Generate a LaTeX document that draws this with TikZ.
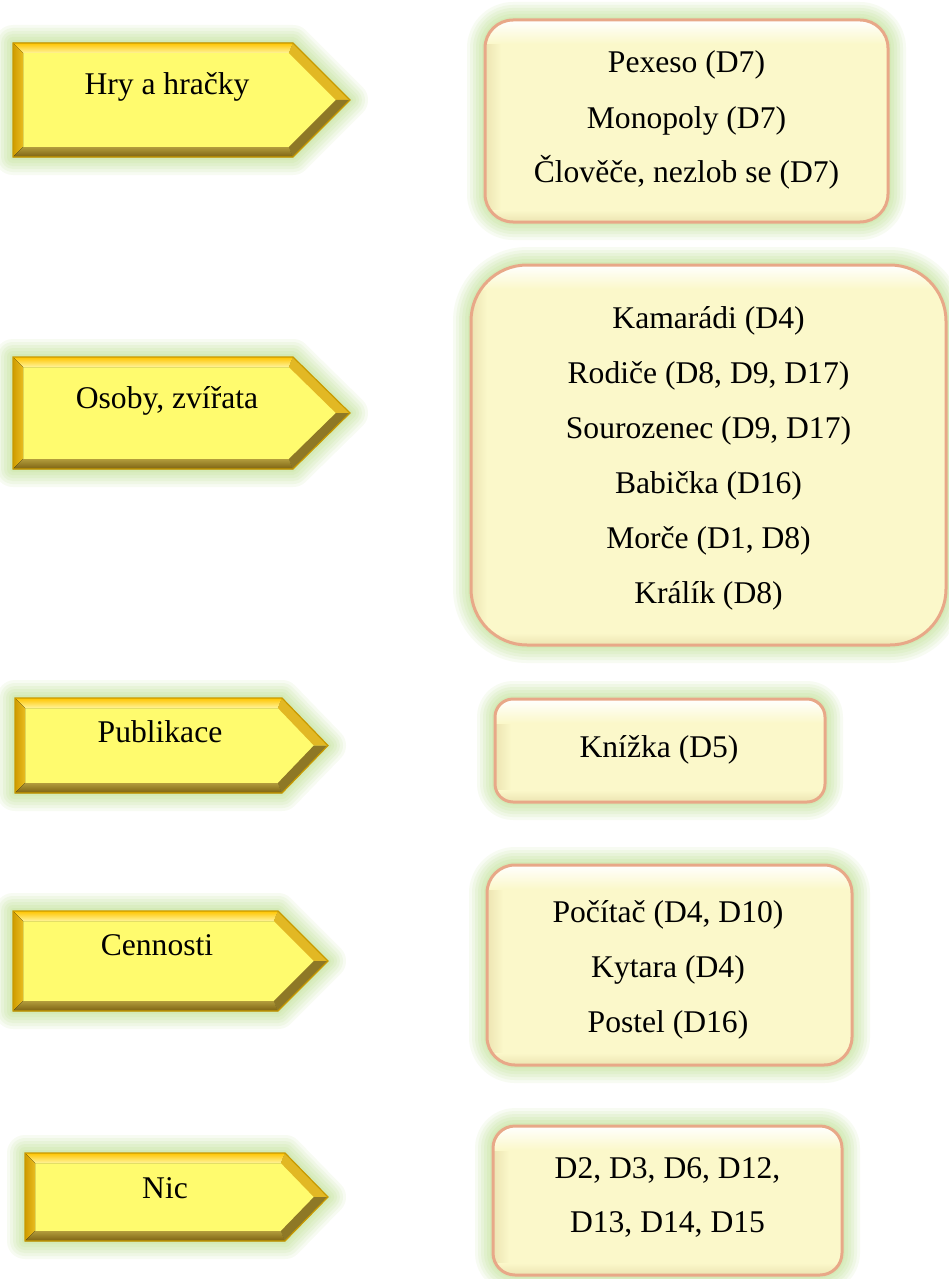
\documentclass[tikz,border=0pt]{standalone}
\usepackage{fontspec}
\setmainfont{Liberation Serif}
\definecolor{glowc}{HTML}{C2E396}
\definecolor{ayellow}{HTML}{FFFB6E}
\definecolor{agoldA}{HTML}{FFC400}
\definecolor{agoldB}{HTML}{FFF49A}
\definecolor{aleftA}{HTML}{D09C00}
\definecolor{aleftB}{HTML}{E8BC20}
\definecolor{abotA}{HTML}{B29C3C}
\definecolor{abotB}{HTML}{7C6212}
\definecolor{adiagA}{HTML}{E2B824}
\definecolor{aldA}{HTML}{8E7826}
\definecolor{aline}{HTML}{C89A00}
\definecolor{bfill}{HTML}{FBF8CA}
\definecolor{bline}{HTML}{E8A888}
\definecolor{bleft}{HTML}{ECE4B2}
\tikzset{
  glow/.style={preaction={draw=glowc,line width=18pt,opacity=0.12,line join=round},
               preaction={draw=glowc,line width=15pt,opacity=0.14,line join=round},
               preaction={draw=glowc,line width=12pt,opacity=0.16,line join=round},
               preaction={draw=glowc,line width=9pt,opacity=0.18,line join=round},
               preaction={draw=glowc,line width=6pt,opacity=0.2,line join=round},
               preaction={draw=glowc,line width=3pt,opacity=0.22,line join=round}},
  lbl/.style={font=\fontsize{15.8}{19}\selectfont, anchor=base, inner sep=0pt, text=black},
}
\newcommand\myarrow[5]{%
 \pgfmathsetmacro\aM{(#2+#5)/2}%
 \path[glow] (#1,#2) -- (#3,#2) -- (#4,\aM) -- (#3,#5) -- (#1,#5) -- cycle;
 \fill[ayellow] (#1,#2) -- (#3,#2) -- (#4,\aM) -- (#3,#5) -- (#1,#5) -- cycle;
 \fill[top color=agoldA, bottom color=agoldB] (#1,#2) -- (#3,#2) -- ({#3-4.14},{#2+10}) -- ({#1+10},{#2+10}) -- cycle;
 \fill[left color=aleftA, right color=aleftB] (#1,#2) -- ({#1+10},{#2+10}) -- ({#1+10},{#5-10}) -- (#1,#5) -- cycle;
 \fill[top color=abotA, bottom color=abotB] (#1,#5) -- ({#1+10},{#5-10}) -- ({#3-4.14},{#5-10}) -- (#3,#5) -- cycle;
 \fill[adiagA] (#3,#2) -- (#4,\aM) -- ({#4-14.14},\aM) -- ({#3-4.14},{#2+10}) -- cycle;
 \fill[aldA] (#4,\aM) -- (#3,#5) -- ({#3-4.14},{#5-10}) -- ({#4-14.14},\aM) -- cycle;
 \draw[aline, line width=0.6pt] (#1,#2) -- (#3,#2) -- (#4,\aM) -- (#3,#5) -- (#1,#5) -- cycle;
}
\newcommand\mybox[5]{%
 \path[glow, rounded corners=#5] (#1,#2) rectangle (#3,#4);
 \begin{scope}
  \clip[rounded corners=#5] (#1,#2) rectangle (#3,#4);
  \fill[bfill] (#1,#2) rectangle (#3,#4);
  \fill[left color=bleft, right color=bfill] (#1,#2) rectangle ({#1+16},#4);
  \fill[top color=white, bottom color=bfill] (#1,#2) rectangle (#3,{#2+24});
  \fill[top color=bfill, bottom color=bleft] (#1,{#4-12}) rectangle (#3,#4);
 \end{scope}
 \draw[bline, line width=1.5pt, rounded corners=#5] (#1,#2) rectangle (#3,#4);
}
\begin{document}
\begin{tikzpicture}[x=0.5pt,y=-0.5pt]
\fill[white] (0,0) rectangle (948,1279);
\useasboundingbox (0,0) rectangle (948,1279);

% arrows
\myarrow{13}{43}{293}{350}{157}
\myarrow{13}{357}{293}{350}{469}
\myarrow{15}{698}{282}{328}{793}
\myarrow{13}{911}{278}{328}{1011}
\myarrow{25}{1153}{285}{328}{1241}

\node[lbl] (a1) at (167,95) {Hry a hračky};
\node[lbl] (a2) at (167,408) {Osoby, zvířata};
\node[lbl] (a3) at (160,742) {Publikace};
\node[lbl] (a4) at (157,955) {Cennosti};
\node[lbl] (a5) at (165,1198) {Nic};

% boxes
\mybox{485}{20}{888}{222}{14pt}
\mybox{471}{265}{946}{645}{28pt}
\mybox{495}{699}{825}{802}{9pt}
\mybox{487}{865}{852}{1065}{14pt}
\mybox{493}{1126}{842}{1275}{11pt}

\node[lbl] (b1a) at (686.5,73) {Pexeso (D7)};
\node[lbl] (b1b) at (686.5,128) {Monopoly (D7)};
\node[lbl] (b1c) at (686.5,183) {Člověče, nezlob se (D7)};

\node[lbl] (b2a) at (708.5,328) {Kamarádi (D4)};
\node[lbl] (b2b) at (708.5,383) {Rodiče (D8, D9, D17)};
\node[lbl] (b2c) at (708.5,438) {Sourozenec (D9, D17)};
\node[lbl] (b2d) at (708.5,493) {Babička (D16)};
\node[lbl] (b2e) at (708.5,548) {Morče (D1, D8)};
\node[lbl] (b2f) at (708.5,603) {Králík (D8)};

\node[lbl] (b3a) at (659,757) {Knížka (D5)};

\node[lbl] (b4a) at (668,922) {Počítač (D4, D10)};
\node[lbl] (b4b) at (668,977) {Kytara (D4)};
\node[lbl] (b4c) at (668,1032) {Postel (D16)};

\node[lbl] (b5a) at (667.5,1178) {D2, D3, D6, D12,};
\node[lbl] (b5b) at (667.5,1232) {D13, D14, D15};
\end{tikzpicture}
\end{document}
